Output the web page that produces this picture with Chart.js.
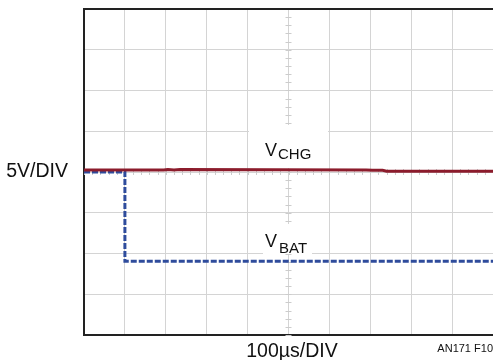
<!DOCTYPE html>
<html>
<head>
<meta charset="utf-8">
<script src="https://cdn.jsdelivr.net/npm/chart.js@4"></script>
<style>
  html, body { margin: 0; padding: 0; background: #fff; }
  canvas { display: block; }
</style>
</head>
<body>
<canvas id="scope" width="493" height="360"></canvas>
<script>
// time in divisions (100us/DIV), level in divisions (5V/DIV)
var chgTime = [0, 1.95, 2.05, 2.2, 2.35, 6.9, 7.05, 7.3, 7.4, 10];
var chgLevel = [4.05, 4.05, 4.06, 4.05, 4.06, 4.05, 4.04, 4.04, 4.02, 4.02];
var batTime = [0, 1.0, 1.0, 10];
var batLevel = [4.0, 4.0, 1.81, 1.81];
var xDivs = 10;
var yDivs = 8;

var FONT = '"Liberation Sans", Arial, sans-serif';

function pts(xs, ys) {
  return xs.map(function (x, i) { return { x: x, y: ys[i] }; });
}

var scopeDecor = {
  id: "scopeDecor",
  beforeDatasetsDraw: function (chart) {
    var ctx = chart.ctx;
    var xs = chart.scales.x, ys = chart.scales.y;
    var a = chart.chartArea;
    var cx = xs.getPixelForValue(xDivs / 2);
    var cy = ys.getPixelForValue(yDivs / 2);
    ctx.save();
    // minor ticks along the centre lines
    ctx.strokeStyle = "#cccccc";
    ctx.lineWidth = 1;
    ctx.beginPath();
    for (var v = 0; v <= yDivs; v += 0.2) {
      var py = Math.round(ys.getPixelForValue(v)) + 0.5;
      ctx.moveTo(cx - 3, py); ctx.lineTo(cx + 3, py);
    }
    for (var u = 0; u <= xDivs; u += 0.2) {
      var px = Math.round(xs.getPixelForValue(u)) + 0.5;
      ctx.moveTo(px, cy - 3); ctx.lineTo(px, cy + 3);
    }
    ctx.stroke();
    // white boxes behind trace labels
    ctx.fillStyle = "#fff";
    ctx.fillRect(249, 125, 79, 43);
    ctx.fillRect(263, 224, 49, 30);
    // frame top
    ctx.fillStyle = "#222";
    ctx.fillRect(a.left - 1, a.top - 1, a.right - a.left + 1, 2);
    ctx.restore();
  },
  afterDraw: function (chart) {
    var ctx = chart.ctx;
    ctx.save();
    ctx.fillStyle = "#111";
    ctx.textBaseline = "alphabetic";
    // trace labels
    ctx.textAlign = "left";
    ctx.font = "18px " + FONT;
    ctx.fillText("V", 265, 156);
    ctx.fillText("V", 265, 247);
    ctx.font = "15px " + FONT;
    ctx.fillText("CHG", 278, 159);
    ctx.fillText("BAT", 279, 253);
    // axis captions
    ctx.font = "19.5px " + FONT;
    ctx.textAlign = "right";
    ctx.fillText("5V/DIV", 68, 177);
    ctx.textAlign = "center";
    ctx.fillText("100\u00b5s/DIV", 292, 357);
    ctx.font = "11px " + FONT;
    ctx.textAlign = "right";
    ctx.fillText("AN171 F10", 493, 352);
    ctx.restore();
  }
};

new Chart(document.getElementById("scope"), {
  type: "line",
  data: {
    datasets: [{
      label: "VCHG",
      data: pts(chgTime, chgLevel),
      borderColor: "#8c1c2c",
      borderWidth: 3,
      pointRadius: 0,
      tension: 0,
      fill: false
    }, {
      label: "VBAT",
      data: pts(batTime, batLevel),
      borderColor: "#2f4c9c",
      borderWidth: 3,
      borderDash: [6, 2],
      pointRadius: 0,
      tension: 0,
      fill: false
    }]
  },
  options: {
    responsive: false,
    animation: false,
    layout: { padding: { left: 84, top: 9, right: 0, bottom: 25 } },
    plugins: {
      legend: { display: false },
      tooltip: { enabled: false }
    },
    scales: {
      x: {
        type: "linear",
        min: 0,
        max: xDivs,
        ticks: { display: false, stepSize: 1 },
        grid: { color: "#d4d4d4", lineWidth: 1, drawTicks: false },
        border: { color: "#222", width: 2 }
      },
      y: {
        type: "linear",
        min: 0,
        max: yDivs,
        ticks: { display: false, stepSize: 1 },
        grid: { color: "#d4d4d4", lineWidth: 1, drawTicks: false },
        border: { color: "#222", width: 2 }
      }
    }
  },
  plugins: [scopeDecor]
});
</script>
</body>
</html>
